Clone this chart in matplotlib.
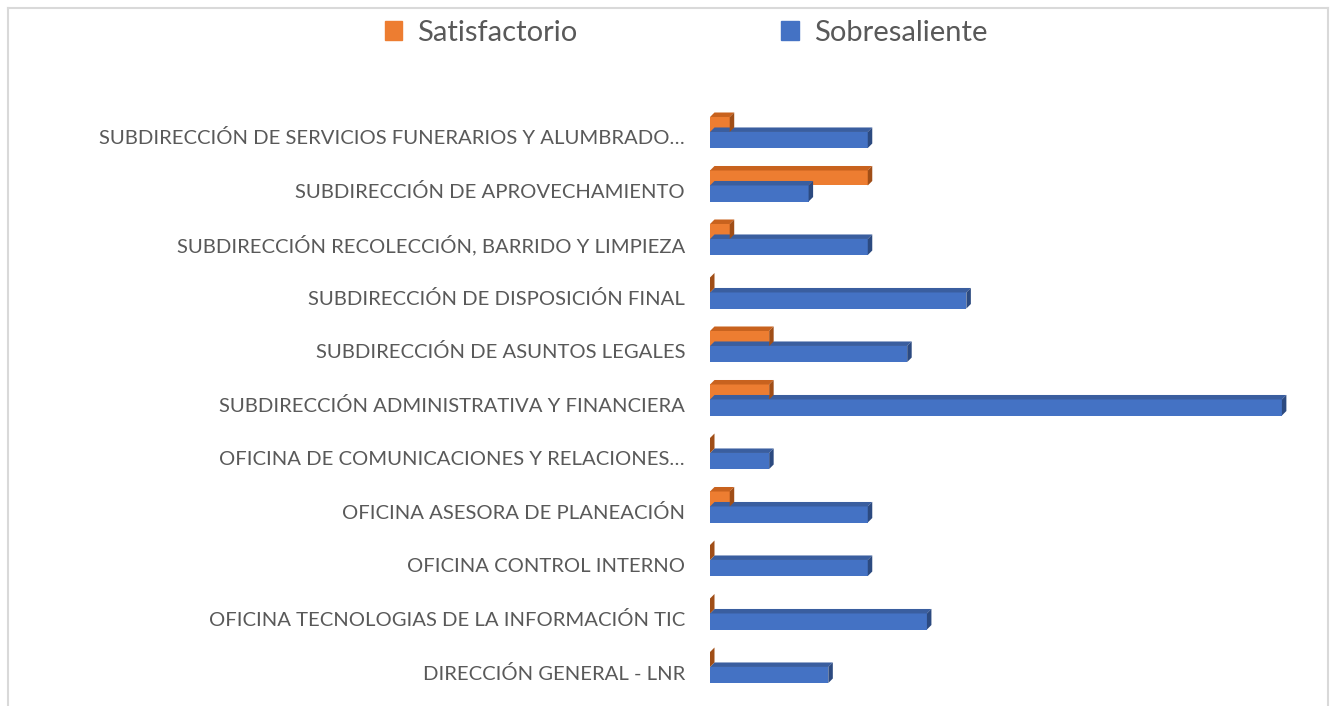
import matplotlib
matplotlib.use("Agg")
import matplotlib.pyplot as plt
from matplotlib.patches import Polygon, Patch
from matplotlib.lines import Line2D

# categories from bottom to top as they appear in the chart
categories = [
    "DIRECCIÓN GENERAL - LNR",
    "OFICINA TECNOLOGIAS DE LA INFORMACIÓN TIC",
    "OFICINA CONTROL INTERNO",
    "OFICINA ASESORA DE PLANEACIÓN",
    "OFICINA DE COMUNICACIONES Y RELACIONES…",
    "SUBDIRECCIÓN ADMINISTRATIVA Y FINANCIERA",
    "SUBDIRECCIÓN DE ASUNTOS LEGALES",
    "SUBDIRECCIÓN DE DISPOSICIÓN FINAL",
    "SUBDIRECCIÓN RECOLECCIÓN, BARRIDO Y LIMPIEZA",
    "SUBDIRECCIÓN DE APROVECHAMIENTO",
    "SUBDIRECCIÓN DE SERVICIOS FUNERARIOS Y ALUMBRADO…",
]
sobresaliente = [6, 11, 8, 8, 3, 29, 10, 13, 8, 5, 8]
satisfactorio = [0, 0, 0, 1, 0, 3, 3, 0, 1, 8, 1]

W, H, DPI = 13.34, 7.06, 100
fig = plt.figure(figsize=(W, H), dpi=DPI)
ax_l, ax_b = 710 / 1334, (706 - 698.75) / 706
ax_w, ax_h = 30 * 19.72 / 1334, 11 * 53.5 / 706
ax = fig.add_axes([ax_l, ax_b, ax_w, ax_h])
xmax = 30
ax.set_xlim(0, xmax)
ax.set_ylim(-0.5, len(categories) - 0.5)

# depth of the 3d faces in data units (about 4-5 px)
dx = 4.5 / (ax_w * W * DPI) * xmax
dy = 4.5 / (ax_h * H * DPI) * len(categories)

series = [
    (sobresaliente, -0.056, 0.30, "#4472C4", "#3A5E9F", "#2C4A80"),
    (satisfactorio, 0.234, 0.28, "#ED7D31", "#C8621E", "#A04E17"),
]
for vals, off, h, front, top, side in series:
    for i, v in enumerate(vals):
        y0 = i + off - h / 2
        y1 = i + off + h / 2
        ax.barh(i + off, v, height=h, color=front, edgecolor="none", zorder=2)
        ax.add_patch(Polygon([(0, y1), (v, y1), (v + dx, y1 + dy), (dx, y1 + dy)],
                             closed=True, facecolor=top, edgecolor="none", zorder=3))
        ax.add_patch(Polygon([(v, y0), (v, y1), (v + dx, y1 + dy), (v + dx, y0 + dy)],
                             closed=True, facecolor=side, edgecolor="none", zorder=3))

ax.set_yticks(range(len(categories)))
ax.set_yticklabels(categories, fontsize=14.6, color="#595959", family="Lato")
ax.tick_params(axis="y", length=0, pad=18)
ax.set_xticks([])
for s in ax.spines.values():
    s.set_visible(False)

handles = [Patch(color="#ED7D31"), Patch(color="#4472C4")]
fig.legend(handles, ["Satisfactorio", "Sobresaliente"], loc="center",
           bbox_to_anchor=(686 / 1334, 1 - 33 / 706), ncol=2, frameon=False,
           prop={"family": "Lato", "size": 21}, labelcolor="#595959",
           handlelength=0.6, handleheight=0.6, handletextpad=0.5, columnspacing=7.0)

# chart border
bc = "#D9D9D9"
x0, x1, yt = 7.5 / 1334, 1327.5 / 1334, 1 - 7.5 / 706
fig.add_artist(Line2D([x0, x1], [yt, yt], color=bc, lw=1.5, transform=fig.transFigure))
fig.add_artist(Line2D([x0, x0], [0, yt], color=bc, lw=1.5, transform=fig.transFigure))
fig.add_artist(Line2D([x1, x1], [0, yt], color=bc, lw=1.5, transform=fig.transFigure))

fig.savefig("out.png", dpi=DPI)
